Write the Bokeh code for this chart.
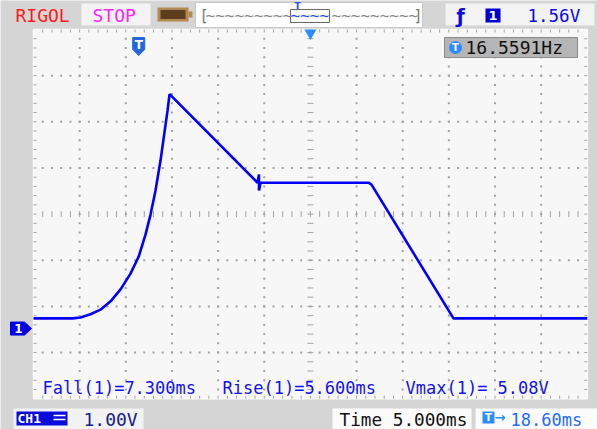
import numpy as np
from bokeh.plotting import figure
from bokeh.models import Label, Range1d
from bokeh.embed import file_html
from bokeh.resources import INLINE

# CH1 trace: time in ms relative to the trigger point, voltage in V
trace_t = [-11.4, -7.17, -6.31, -5.22, -4.14, -3.05, -1.97, -0.89, 0.0, 0.74,
           1.28, 1.82, 2.36, 2.79, 3.12, 3.34, 12.87, 13.03, 13.03, 13.20,
           24.90, 25.22, 34.10, 48.6]
trace_v = [0.22, 0.22, 0.24, 0.31, 0.41, 0.59, 0.85, 1.19, 1.56, 2.04,
           2.47, 2.99, 3.64, 4.25, 4.72, 5.08, 3.16, 3.34, 2.99, 3.16,
           3.16, 3.12, 0.22, 0.22]

meas_names = ["Fall(1)", "Rise(1)", "Vmax(1)"]
meas_vals = ["7.300ms", "5.600ms", " 5.08V"]
freq_text = "16.5591Hz"
trig_level = "1.56V"
ch_scale = "1.00V"
time_scale = "Time 5.000ms"
trig_delay = "18.60ms"

TIME_DIV = 5.0      # ms / div
VOLT_DIV = 1.0      # V / div
DELAY = 18.6        # ms at screen centre
CENTER_V = 2.48     # V at screen centre

# ---------------- layout ----------------
W, H = 597, 429
PL, PT = 33, 29
DIV = 46.15
NX, NY = 12, 8
MONO = "DejaVu Sans Mono"
BG = "#d5d5d5"
GRID = "#a2a2a2"

T_LEFT = DELAY - NX / 2 * TIME_DIV
T_RIGHT = T_LEFT + NX * TIME_DIV
V_TOP = CENTER_V + NY / 2 * VOLT_DIV
V_BOT = V_TOP - NY * VOLT_DIV


def tx(px):
    return T_LEFT + (px - PL) / DIV * TIME_DIV


def vy(py):
    return V_TOP - (py - PT) / DIV * VOLT_DIV


def dx(n):
    return n / DIV * TIME_DIV


def dy(n):
    return n / DIV * VOLT_DIV


p = figure(width=W, height=H,
           x_range=Range1d(tx(0), tx(W)),
           y_range=Range1d(vy(H), vy(0)),
           output_backend="svg", toolbar_location=None,
           x_axis_location=None, y_axis_location=None,
           min_border=0, background_fill_color=BG, border_fill_color=BG,
           outline_line_color=None)
p.grid.visible = False


def label(x, y, text, size, color, font=MONO, align="left", style="normal"):
    p.add_layout(Label(x=x, y=y, text=text, text_font=font,
                       text_font_size=f"{size}px", text_color=color,
                       text_align=align, text_baseline="middle",
                       text_font_style=style))


def box(l, r, t, b, fill, line=None):
    p.quad(left=[tx(l)], right=[tx(r)], top=[vy(t)], bottom=[vy(b)],
           fill_color=fill, line_color=line)


# ---------------- screen area ----------------
p.quad(left=[T_LEFT], right=[T_RIGHT], bottom=[V_BOT], top=[V_TOP],
       fill_color="#f7f7f7", line_color="#fbfbfb", line_width=1.5)

sub_t = T_LEFT + np.arange(1, NX * 5) * TIME_DIV / 5
sub_v = V_TOP - np.arange(1, NY * 5) * VOLT_DIV / 5
cols = [T_LEFT + k * TIME_DIV for k in range(1, NX) if k != NX // 2]
rows = [V_TOP - k * VOLT_DIV for k in range(1, NY) if k != NY // 2]
t_c = T_LEFT + NX / 2 * TIME_DIV
v_c = V_TOP - NY / 2 * VOLT_DIV

gx1, gy1 = np.meshgrid(cols, sub_v)
gx2, gy2 = np.meshgrid(sub_t, rows)
dots_x = np.concatenate([gx1.ravel(), gx2.ravel()])
dots_y = np.concatenate([gy1.ravel(), gy2.ravel()])
p.scatter(dots_x, dots_y, marker="square", size=2, fill_color=GRID,
          line_color=None)

# centre cross ticks
p.segment(x0=[t_c - dx(3)] * len(sub_v), x1=[t_c + dx(3)] * len(sub_v),
          y0=sub_v, y1=sub_v, line_color=GRID, line_width=1)
p.segment(x0=sub_t, x1=sub_t, y0=[v_c - dy(3)] * len(sub_t),
          y1=[v_c + dy(3)] * len(sub_t), line_color=GRID, line_width=1)
# border ticks
p.segment(x0=[T_LEFT] * len(sub_v), x1=[T_LEFT + dx(3)] * len(sub_v),
          y0=sub_v, y1=sub_v, line_color=GRID, line_width=1)
p.segment(x0=[T_RIGHT - dx(3)] * len(sub_v), x1=[T_RIGHT] * len(sub_v),
          y0=sub_v, y1=sub_v, line_color=GRID, line_width=1)
p.segment(x0=sub_t, x1=sub_t, y0=[V_TOP] * len(sub_t),
          y1=[V_TOP - dy(3)] * len(sub_t), line_color=GRID, line_width=1)
p.segment(x0=sub_t, x1=sub_t, y0=[V_BOT] * len(sub_t),
          y1=[V_BOT + dy(3)] * len(sub_t), line_color=GRID, line_width=1)

# trace
p.line(trace_t, trace_v, line_color="#0000ff", line_width=2.6)

# trigger position marker (t = 0)
p.patch([-dx(6), dx(6), dx(6), 0, -dx(6)],
        [vy(37), vy(37), vy(49), vy(55), vy(49)],
        fill_color="#2466e0", line_color="#2466e0")
label(0, vy(44.5), "T", 12, "white", font="DejaVu Sans", align="center",
      style="bold")
# screen centre marker
p.scatter([t_c], [vy(32.5)], marker="inverted_triangle", size=12,
          fill_color="#2b8cff", line_color=None)

# channel ground marker (V = 0)
cm_x = [tx(10), tx(24), tx(31), tx(24), tx(10)]
cm_y = [dy(6.5), dy(6.5), 0, -dy(6.5), -dy(6.5)]
p.patch(cm_x, cm_y, fill_color="#0000e6", line_color="#0000e6")
label(tx(18), 0, "1", 12, "white", font="DejaVu Sans", align="center",
      style="bold")

# frequency box
box(444, 577, 37, 57, "#b5b5b5", "#8c8c8c")
p.scatter([tx(455)], [vy(47)], marker="circle", size=13, fill_color="#2b8cff",
          line_color=None)
label(tx(455), vy(47), "T", 10, "white", font="DejaVu Sans", align="center",
      style="bold")
label(tx(465), vy(46.5), freq_text, 18, "#111111")

# measurements
for xpos, n, v in zip([42, 222, 405], meas_names, meas_vals):
    label(tx(xpos), vy(387.5), f"{n}={v}", 17, "#1212ee")

# ---------------- top bar ----------------
label(tx(15), vy(14.5), "RIGOL", 18, "#ff1a1a")
box(81, 150, 3, 25, "#f3f3f3", "#e2e2e2")
label(tx(92), vy(14.5), "STOP", 18, "#ff22ff")
# battery
box(157, 188, 7, 21, "#b08850")
box(160, 185, 9.5, 18.5, "#5c3d1e")
box(188, 192, 11, 17, "#b08850")
# memory overview
box(195, 422, 2, 27, "#ffffff", "#c8c8c8")
label(tx(199), vy(15), "[", 15, "#777777")
label(tx(413), vy(15), "]", 15, "#777777")
label(tx(205), vy(15), "~" * 9, 16, "#888888")
label(tx(290), vy(15), "~" * 4, 16, "#2050ff")
label(tx(331), vy(15), "~" * 9, 16, "#888888")
p.quad(left=[tx(290)], right=[tx(329)], top=[vy(9)], bottom=[vy(22)],
       fill_color=None, line_color="#666666", line_width=1)
label(tx(297), vy(5), "T", 9, "#2050ff", font="DejaVu Sans", align="center",
      style="bold")
# trigger box
box(445, 594, 3, 25, "#f3f3f3", "#e2e2e2")
label(tx(456), vy(15), "ƒ", 19, "#0a0ae0", font="DejaVu Sans", style="bold")
box(485, 500, 8, 22, "#0000cc")
label(tx(492.5), vy(15), "1", 13, "white", font="DejaVu Sans", align="center",
      style="bold")
label(tx(527), vy(15), trig_level, 17.5, "#0a0aee")

# ---------------- bottom bar ----------------
box(13, 143, 408, 429, "#f2f2f2")
box(16, 67, 411, 425, "#0a0adc")
label(tx(17), vy(418), "CH1", 13, "white", style="bold")
p.segment(x0=[tx(53), tx(53)], x1=[tx(65), tx(65)], y0=[vy(415), vy(419)],
          y1=[vy(415), vy(419)], line_color="white", line_width=1.5)
label(tx(83), vy(419), ch_scale, 18, "#14208a")
box(332, 471, 408, 429, "#fbfbfb")
label(tx(339), vy(419), time_scale, 17.7, "#111111")
box(475, 597, 408, 429, "#fbfbfb")
box(482, 494, 411, 423, "#2b8cff")
label(tx(488), vy(417), "T", 10, "white", font="DejaVu Sans", align="center",
      style="bold")
label(tx(494), vy(417), "→", 13, "#2b8cff", font="DejaVu Sans", style="bold")
label(tx(510), vy(419), trig_delay, 17, "#1f6bff")

open("out.html", "w").write(file_html(p, INLINE))
